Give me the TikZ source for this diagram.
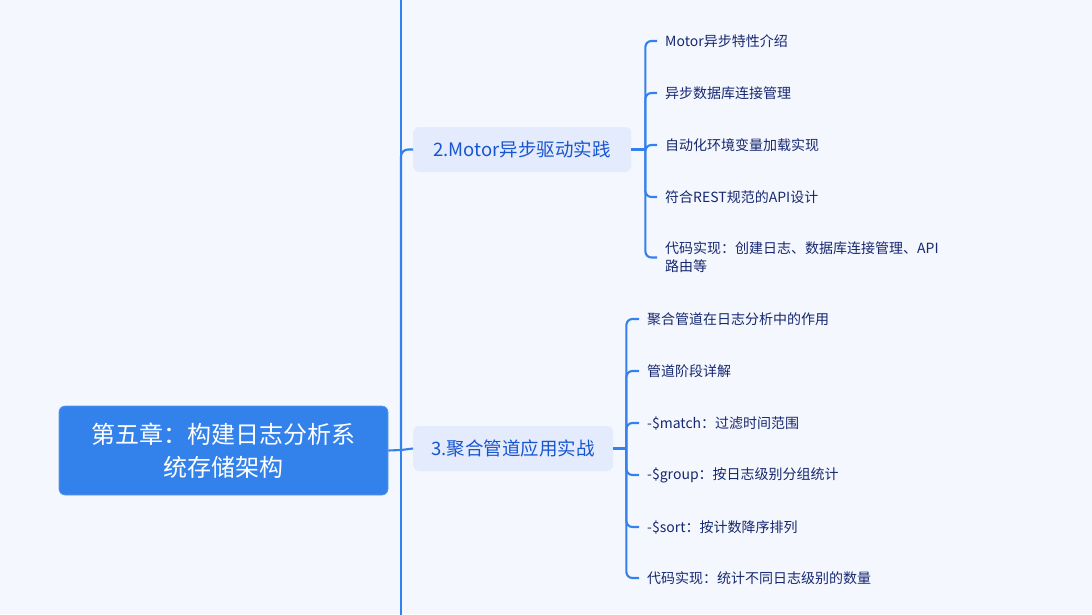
\documentclass[tikz,border=0pt]{standalone}
\usepackage{fontspec}
\setmainfont{Noto Sans CJK SC}
\usetikzlibrary{positioning,calc}

\definecolor{bgcol}{RGB}{245,247,254}
\definecolor{linecol}{RGB}{52,128,236}
\definecolor{rootcol}{RGB}{51,129,235}
\definecolor{branchfill}{RGB}{227,235,253}
\definecolor{branchtext}{RGB}{24,86,208}
\definecolor{leaftext}{RGB}{22,40,112}

\tikzset{
  rootnode/.style={fill=rootcol, draw=rootcol!80!white, line width=0.6pt, rounded corners=6pt,
    text=white, align=center, minimum width=329, minimum height=89,
    font=\fontsize{24}{33}\selectfont},
  branchnode/.style={fill=branchfill, rounded corners=6pt, text=branchtext,
    minimum height=45, inner xsep=0pt, font=\fontsize{18.5}{22}\selectfont},
  leafnode/.style={anchor=west, text=leaftext, align=left, inner xsep=8pt, inner ysep=1pt,
    font=\fontsize{14}{18}\selectfont},
  link/.style={draw=linecol, line width=2.1pt},
}

\begin{document}
\begin{tikzpicture}[x=1pt,y=-1pt]
\useasboundingbox[fill=bgcol] (0,0) rectangle (1092,614);

%root
\node[rootnode] (root) at (223.5,450.5) {第五章：构建日志分析系\\统存储架构};
\coordinate (trunk) at (401,450);
\coordinate (trunktop) at (401,-5);
\coordinate (trunkbot) at (401,620);

%branches
\node[branchnode, minimum width=218, anchor=west] (b2) at (413,149.5) {2.Motor异步驱动实践};
\node[branchnode, minimum width=200, anchor=west] (b3) at (413,448.5) {3.聚合管道应用实战};

%leaves of branch 2
\node[leafnode] (b2l1) at (657,41) {Motor异步特性介绍};
\node[leafnode] (b2l2) at (657,93) {异步数据库连接管理};
\node[leafnode] (b2l3) at (657,145) {自动化环境变量加载实现};
\node[leafnode] (b2l4) at (657,197) {符合REST规范的API设计};
\node[leafnode] (b2l5) at (657,257.5) {代码实现：创建日志、数据库连接管理、API\\路由等};

%leaves of branch 3
\node[leafnode] (b3l1) at (639,319) {聚合管道在日志分析中的作用};
\node[leafnode] (b3l2) at (639,371) {管道阶段详解};
\node[leafnode] (b3l3) at (639,423) {-\$match：过滤时间范围};
\node[leafnode] (b3l4) at (639,475) {-\$group：按日志级别分组统计};
\node[leafnode] (b3l5) at (639,527) {-\$sort：按计数降序排列};
\node[leafnode] (b3l6) at (639,578) {代码实现：统计不同日志级别的数量};

%connectors
\draw[link] (trunktop) -- (trunkbot);
\draw[link] (root.east) -- (trunk);
\draw[link, rounded corners=7pt] (trunk) |- (b2.west);
\draw[link] (trunk) -- (b3.west);

\coordinate (j2) at ($(b2.east)+(14,0)$);
\coordinate (j3) at ($(b3.east)+(13,0)$);
\draw[link] (b2.east) -- (j2);
\draw[link] (b3.east) -- (j3);
\foreach \i in {1,...,5}
  \draw[link, rounded corners=6pt] (j2) |- (b2l\i.west);
\foreach \i in {1,...,6}
  \draw[link, rounded corners=6pt] (j3) |- (b3l\i.west);
\end{tikzpicture}
\end{document}
